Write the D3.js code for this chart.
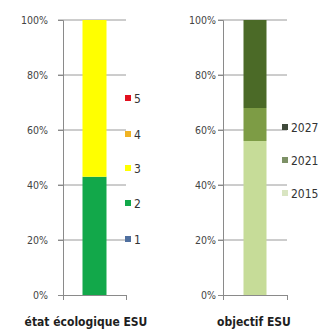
<!DOCTYPE html>
<html>
<head>
<meta charset="utf-8">
<script src="https://cdn.jsdelivr.net/npm/d3@7"></script>
<style>
  body { margin: 0; background: #fff; }
  svg { display: block; }
</style>
</head>
<body>
<div class="chart"></div>
<script>
const width = 336
const height = 336

// état écologique (classes 1..5), share of water bodies
const etatClasses = ["1", "2", "3", "4", "5"]
const etatValues = [0, 0.43, 0.57, 0, 0]
const etatColors = ["#4f6f9f", "#12a84a", "#ffff00", "#f0b323", "#e2101e"]

// objectif ESU by deadline
const objYears = ["2015", "2021", "2027"]
const objValues = [0.56, 0.12, 0.32]
const objColors = ["#c6dc98", "#7d9c45", "#4b6a27"]
const objLegendColors = ["#d9e5c2", "#7d9166", "#3f4a3a"]

const yTicks = [0, 0.2, 0.4, 0.6, 0.8, 1]
const font = "'DejaVu Sans Condensed', 'Liberation Sans', sans-serif"

const svg = d3.select(".chart")
    .append("svg")
    .attr("width", width)
    .attr("height", height)

const yScale = d3.scaleLinear()
    .domain([0, 1])
    .range([295, 20])

function panel(opts) {
    const g = svg.append("g")

    const xScale = d3.scaleBand()
        .domain([opts.title])
        .range([opts.x0, opts.x1])
        .paddingInner(0)
        .paddingOuter(0.5)

    // gridlines
    g.selectAll("line.grid")
        .data(yTicks.filter(d => d > 0))
        .enter().append("line")
        .attr("x1", opts.x0 - 5)
        .attr("x2", opts.x1)
        .attr("y1", d => yScale(d))
        .attr("y2", d => yScale(d))
        .attr("stroke", "#9a9a9a")
        .attr("stroke-width", 1)

    // stacked bar
    let acc = 0
    const segs = opts.values.map((v, i) => {
        const s = { y0: acc, y1: acc + v, color: opts.colors[i] }
        acc += v
        return s
    })
    const bw = xScale.bandwidth()
    g.selectAll("rect.seg")
        .data(segs.filter(d => d.y1 > d.y0))
        .enter().append("rect")
        .attr("x", xScale(opts.title) + (bw - opts.barWidth) / 2)
        .attr("width", opts.barWidth)
        .attr("y", d => yScale(d.y1))
        .attr("height", d => yScale(d.y0) - yScale(d.y1))
        .attr("fill", d => d.color)

    // y axis
    const yAxis = g.append("g")
        .attr("transform", `translate(${opts.x0}, 0)`)
        .call(d3.axisLeft(yScale).tickValues(yTicks).tickFormat(d3.format(".0%")).tickSize(5).tickPadding(opts.pad))
    yAxis.select("path.domain").attr("stroke", "#8a8a8a")
    yAxis.selectAll("line").attr("stroke", "#8a8a8a")
    yAxis.selectAll("text")
        .attr("fill", "#444")
        .style("font-family", font)
        .style("font-size", "10.5px")

    // x axis
    const xAxis = g.append("g")
        .attr("transform", `translate(0, ${yScale(0)})`)
        .call(d3.axisBottom(d3.scaleLinear().domain([0, 1]).range([opts.x0, opts.x1])).tickValues([0, 1]).tickFormat("").tickSize(5))
    xAxis.select("path.domain").attr("stroke", "#8a8a8a")
    xAxis.selectAll("line").attr("stroke", "#8a8a8a")

    g.append("text")
        .attr("x", opts.titleX)
        .attr("y", 326)
        .attr("text-anchor", "middle")
        .style("font-family", font)
        .style("font-weight", "bold")
        .style("font-size", "12px")
        .attr("fill", "#1e1e1e")
        .text(opts.title)

    // legend
    const leg = g.selectAll("g.leg")
        .data(opts.legend)
        .enter().append("g")
        .attr("transform", d => `translate(${opts.legX}, ${d.y})`)
    leg.append("rect")
        .attr("x", 0)
        .attr("y", -3)
        .attr("width", 6)
        .attr("height", 6)
        .attr("fill", d => d.color)
    leg.append("text")
        .attr("x", 9)
        .attr("y", 4.5)
        .style("font-family", font)
        .style("font-size", "12px")
        .attr("fill", "#333")
        .text(d => d.label)
}

const etatLegendY = [239, 203, 168, 134, 98]
panel({
    title: "état écologique ESU",
    x0: 63, x1: 126, barWidth: 24, pad: 10, titleX: 86,
    values: etatValues, colors: etatColors,
    legX: 125,
    legend: etatClasses.map((c, i) => ({ label: c, color: etatColors[i], y: etatLegendY[i] }))
})

const objLegendY = [193, 160, 127]
panel({
    title: "objectif ESU",
    x0: 223, x1: 287, barWidth: 23, pad: 2, titleX: 254,
    values: objValues, colors: objColors,
    legX: 282,
    legend: objYears.map((c, i) => ({ label: c, color: objLegendColors[i], y: objLegendY[i] }))
})
</script>
</body>
</html>
